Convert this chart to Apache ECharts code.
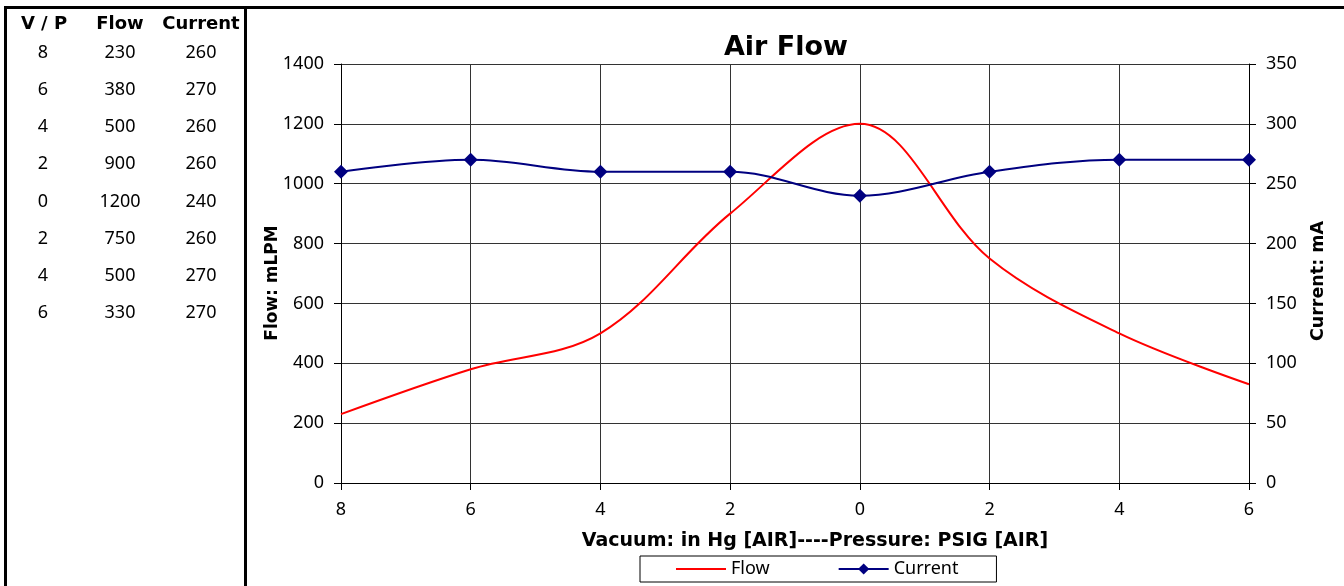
<!DOCTYPE html>
<html><head><meta charset="utf-8">
<script src="https://cdn.jsdelivr.net/npm/echarts@6/dist/echarts.min.js"></script>
<style>html,body{margin:0;padding:0;background:#fff;}#c{width:1344px;height:586px;}</style>
</head><body><div id="c"></div>
<script>
const vpLabels = ['8','6','4','2','0','2','4','6'];
const flowValues = [230, 380, 500, 900, 1200, 750, 500, 330];
const currentValues = [260, 270, 260, 260, 240, 260, 270, 270];
const tableHeaders = ['V / P', 'Flow', 'Current'];
const FONT = 'Noto Sans';
const BFONT = 'DejaVu Sans';

const chart = echarts.init(document.getElementById('c'));

const colX = [44, 120, 201];
const g = [];
g.push({type:'rect', shape:{x:4, y:6, width:1340, height:3}, style:{fill:'#000'}});
g.push({type:'rect', shape:{x:4, y:6, width:3, height:580}, style:{fill:'#000'}});
g.push({type:'rect', shape:{x:244, y:6, width:3, height:580}, style:{fill:'#000'}});
tableHeaders.forEach((h, j) => {
  g.push({type:'text', x: colX[j], y: 24, style:{text:h, font:'bold 18px "'+BFONT+'"', fill:'#000', align:'center', verticalAlign:'middle'}});
});
vpLabels.forEach((v, i) => {
  const y = 53 + i * 37.1;
  const row = [v, String(flowValues[i]), String(currentValues[i])];
  row.forEach((t, j) => {
    g.push({type:'text', x: colX[j] - (j===0?1:0), y: y, style:{text:t, font:'18px "'+FONT+'"', fill:'#000', align:'center', verticalAlign:'middle'}});
  });
});
g.push({type:'text', x: 815, y: 541, style:{text:'Vacuum: in Hg [AIR]----Pressure: PSIG [AIR]', font:'bold 19px "'+BFONT+'"', fill:'#000', align:'center', verticalAlign:'middle'}});
g.push({type:'text', x: 273, y: 283, rotation: Math.PI/2, style:{text:'Flow: mLPM', font:'bold 17px "'+BFONT+'"', fill:'#000', align:'center', verticalAlign:'middle'}});
g.push({type:'text', x: 1318, y: 281, rotation: Math.PI/2, style:{text:'Current: mA', font:'bold 17.5px "'+BFONT+'"', fill:'#000', align:'center', verticalAlign:'middle'}});

const axisLine = {show:true, lineStyle:{color:'#000', width:1}};
const tick = {show:true, length:7, lineStyle:{color:'#000'}};
const split = {show:true, lineStyle:{color:'#333', width:1}};
const lbl = {fontFamily:FONT, fontSize:18, color:'#000'};

chart.setOption({
  animation:false,
  textStyle:{fontFamily:FONT},
  title:{text:'Air Flow', left:781, top:29, textAlign:'center', textStyle:{fontFamily:BFONT, fontWeight:'bold', fontSize:27, color:'#000'}},
  grid:{left:341, right:95, top:64, bottom:103, containLabel:false},
  legend:{
    left:640, top:556, padding:[4,38,4,35], itemGap:68,
    borderColor:'#000', borderWidth:1, itemWidth:50, itemHeight:14, itemTextGap:7,
    textStyle:{fontFamily:FONT, fontSize:18, color:'#000'},
    data:[{name:'Flow', itemStyle:{opacity:0}},{name:'Current'}]
  },
  xAxis:{
    type:'category', data:vpLabels, boundaryGap:false,
    axisLine:axisLine, axisTick:{show:true, length:7, lineStyle:{color:'#000'}, alignWithLabel:true},
    axisLabel:Object.assign({margin:18}, lbl),
    splitLine:split
  },
  yAxis:[
    {type:'value', min:0, max:1400, interval:200, position:'left',
     axisLine:axisLine, axisTick:tick,
     axisLabel:Object.assign({margin:17, formatter:v=>String(v)}, lbl),
     splitLine:split},
    {type:'value', min:0, max:350, interval:50, position:'right',
     axisLine:axisLine, axisTick:tick,
     axisLabel:Object.assign({margin:17, formatter:v=>String(v)}, lbl),
     splitLine:{show:false}}
  ],
  graphic:g,
  series:[
    {name:'Flow', type:'line', yAxisIndex:0, data:flowValues, smooth:0.35,
     symbol:'none', lineStyle:{color:'#ff0000', width:2}, itemStyle:{color:'#ff0000'}},
    {name:'Current', type:'line', yAxisIndex:1, data:currentValues, smooth:0.35,
     symbol:'diamond', symbolSize:14, showSymbol:true,
     lineStyle:{color:'#000080', width:2}, itemStyle:{color:'#000080'}}
  ]
});
</script></body></html>
